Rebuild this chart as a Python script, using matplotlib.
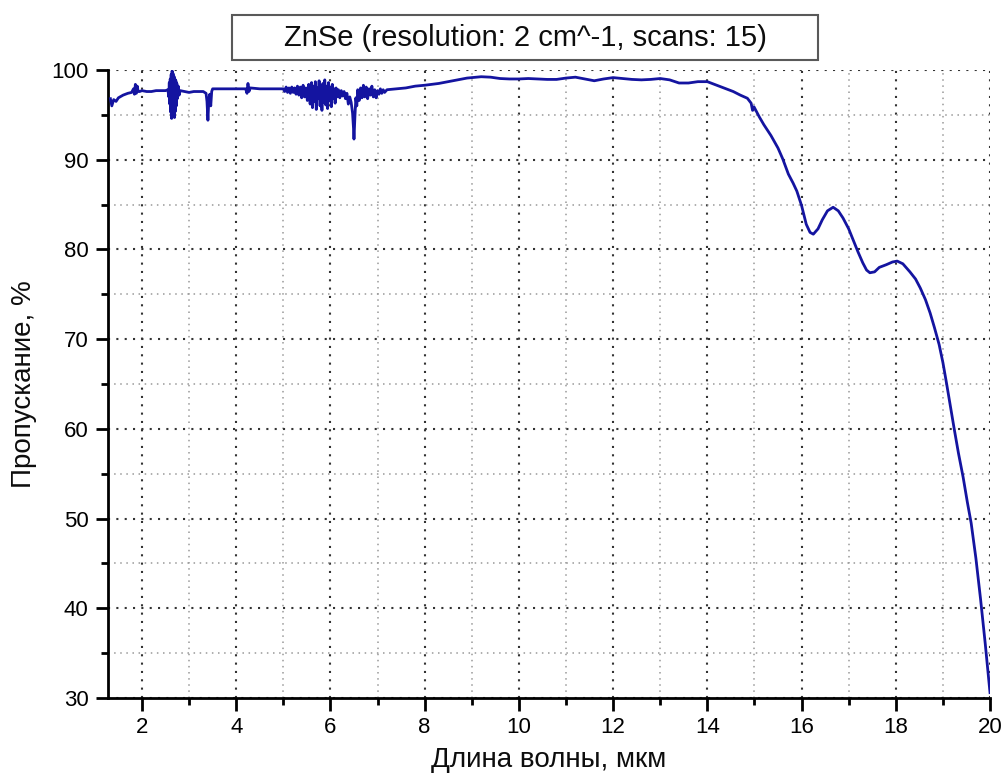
#!/usr/bin/env python3
"""ZnSe transmission spectrum (resolution 2 cm^-1, 15 scans)."""
import matplotlib

matplotlib.use("Agg")
import matplotlib.pyplot as plt
from matplotlib.patches import Rectangle
from matplotlib.ticker import MultipleLocator

plt.rcParams["font.family"] = ["Liberation Sans", "DejaVu Sans"]

TITLE = "ZnSe (resolution: 2 cm^-1, scans: 15)"
XLABEL = "Длина волны, мкм"
YLABEL = "Пропускание, %"

# values: wavelength (um) -> transmission (%)
wl_start = [1.33, 1.36, 1.40, 1.45, 1.50, 1.60, 1.70, 1.78, 1.82, 1.84, 1.86,
            1.88, 1.90, 1.92, 1.95, 2.00, 2.10, 2.20, 2.30, 2.40, 2.50]
t_start = [96.8, 96.0, 96.7, 96.5, 96.9, 97.2, 97.4, 97.5, 97.9, 97.3, 98.4,
           97.4, 98.2, 97.6, 97.6, 97.7, 97.6, 97.6, 97.7, 97.7, 97.7]

wl_burst = [2.55, 2.57, 2.58, 2.59, 2.60, 2.61, 2.62, 2.63, 2.64, 2.65, 2.66,
            2.67, 2.68, 2.69, 2.70, 2.71, 2.72, 2.73, 2.74, 2.75, 2.77, 2.79,
            2.81]
t_burst = [97.8, 97.0, 98.6, 96.2, 99.0, 95.3, 99.5, 94.6, 99.9, 94.8, 99.6,
           95.0, 99.3, 94.7, 99.0, 95.4, 98.8, 96.0, 98.5, 96.8, 98.2, 97.2,
           97.7]

wl_mid = [2.90, 3.00, 3.10, 3.20, 3.30, 3.36, 3.38, 3.40, 3.42, 3.44, 3.46,
          3.48, 3.50, 3.60, 3.80, 4.00, 4.20, 4.23, 4.25, 4.27, 4.30, 4.50,
          4.70, 4.90]
t_mid = [97.6, 97.5, 97.6, 97.6, 97.6, 97.4, 96.5, 94.4, 96.8, 97.3, 96.0,
         97.6, 97.9, 97.9, 97.9, 97.9, 97.9, 97.4, 98.5, 97.6, 98.0, 97.9,
         97.9, 97.9]

wl_noise = [5.00, 5.03, 5.06, 5.09, 5.12, 5.15, 5.18, 5.21, 5.24, 5.27, 5.30,
            5.33, 5.36, 5.39, 5.42, 5.45, 5.48, 5.51, 5.54, 5.57, 5.60, 5.62,
            5.64, 5.66, 5.68, 5.70, 5.72, 5.74, 5.76, 5.78, 5.80, 5.82, 5.84,
            5.86, 5.88, 5.90, 5.92, 5.94, 5.96, 5.98, 6.00, 6.02, 6.04, 6.06,
            6.08, 6.10, 6.12, 6.14, 6.17, 6.20, 6.23, 6.26, 6.29, 6.32, 6.35,
            6.38, 6.41, 6.44, 6.47, 6.49, 6.50, 6.52, 6.54, 6.56, 6.58, 6.61,
            6.64, 6.67, 6.70, 6.73, 6.76, 6.79, 6.82, 6.85, 6.88, 6.91, 6.94,
            6.97, 7.00, 7.03, 7.06, 7.09, 7.12, 7.15]
t_noise = [97.9, 97.6, 98.1, 97.5, 98.0, 97.4, 98.1, 97.5, 98.0, 97.3, 98.2,
           97.2, 98.1, 96.9, 98.3, 97.0, 98.0, 96.6, 98.4, 96.2, 98.6, 95.8,
           98.2, 96.5, 98.7, 95.6, 98.0, 96.8, 98.8, 96.0, 98.3, 95.5, 98.5,
           96.4, 98.9, 96.1, 98.2, 95.7, 98.6, 96.6, 98.1, 95.9, 98.4, 96.8,
           97.9, 96.3, 98.0, 97.0, 97.8, 96.9, 97.7, 97.1, 97.6, 96.8, 97.4,
           96.2, 97.0, 96.4, 95.2, 93.5, 92.3, 94.8, 96.9, 96.0, 97.8, 96.6,
           98.0, 96.9, 98.3, 97.0, 98.1, 96.8, 97.9, 97.2, 98.2, 97.0, 97.8,
           96.9, 97.7, 97.3, 97.9, 97.4, 97.8, 97.5]

wl_end = [7.20, 7.40, 7.60, 7.80, 8.00, 8.30, 8.60, 8.90, 9.20, 9.40, 9.60,
          9.80, 10.0, 10.2, 10.4, 10.6, 10.8, 11.0, 11.2, 11.4, 11.6, 11.8,
          12.0, 12.2, 12.4, 12.6, 12.8, 13.0, 13.2, 13.4, 13.6, 13.8, 14.0,
          14.2, 14.4, 14.55, 14.7, 14.85, 14.93, 14.96, 14.99, 15.02, 15.1,
          15.2, 15.35, 15.5, 15.6, 15.72, 15.82, 15.9, 16.0, 16.1, 16.18,
          16.25, 16.35, 16.44, 16.55, 16.67, 16.78, 16.88, 17.0, 17.1, 17.2,
          17.3, 17.38, 17.45, 17.55, 17.65, 17.8, 17.93, 18.03, 18.15, 18.3,
          18.42, 18.52, 18.63, 18.73, 18.82, 18.92, 19.0, 19.08, 19.16, 19.24,
          19.33, 19.43, 19.52, 19.6, 19.7, 19.8, 19.9, 20.0]
t_end = [97.8, 97.9, 98.0, 98.2, 98.3, 98.5, 98.8, 99.1, 99.25, 99.2, 99.05,
         99.0, 99.0, 99.05, 99.0, 98.95, 98.95, 99.1, 99.2, 99.0, 98.8, 99.0,
         99.15, 99.05, 98.95, 98.9, 98.95, 99.05, 98.9, 98.55, 98.55, 98.7,
         98.7, 98.3, 97.9, 97.6, 97.2, 96.85, 96.3, 95.5, 95.9, 95.6, 94.8,
         93.9, 92.7, 91.3, 90.1, 88.4, 87.4, 86.5, 84.9, 82.8, 81.9,
         81.7, 82.3, 83.3, 84.3, 84.7, 84.3, 83.5, 82.3, 81.0, 79.7,
         78.5, 77.7, 77.4, 77.5, 78.0, 78.3, 78.6, 78.7, 78.4, 77.5,
         76.7, 75.7, 74.4, 72.9, 71.3, 69.4, 67.4, 65.0, 62.5, 60.0,
         57.3, 54.6, 51.8, 49.5, 45.6, 41.0, 36.0, 30.6]

wavelength = wl_start + wl_burst + wl_mid + wl_noise + wl_end
transmission = t_start + t_burst + t_mid + t_noise + t_end


def main():
    fig = plt.figure(figsize=(10.06, 7.76), dpi=100)
    ax = fig.add_axes([0.1074, 0.1005, 0.8767, 0.8093])

    ax.plot(wavelength, transmission, color="#1414a0", lw=2.0, zorder=3,
            solid_joinstyle="round")

    ax.set_xlim(1.28, 20)
    ax.set_ylim(30, 100)
    ax.xaxis.set_major_locator(MultipleLocator(2))
    ax.xaxis.set_minor_locator(MultipleLocator(1))
    ax.yaxis.set_major_locator(MultipleLocator(10))
    ax.yaxis.set_minor_locator(MultipleLocator(5))

    ax.grid(True, which="major", ls=(0, (1, 3)), color="0.2", lw=1.5)
    ax.grid(True, which="minor", ls=(0, (1, 3)), color="0.6", lw=1.1)
    ax.set_axisbelow(True)

    for side in ("top", "right"):
        ax.spines[side].set_visible(False)
    for side in ("left", "bottom"):
        ax.spines[side].set_linewidth(2.0)
    ax.tick_params(which="major", direction="out", length=9, width=2.0,
                   labelsize=16, colors="black", pad=5)
    ax.tick_params(which="minor", direction="out", length=5, width=2.0)

    ax.set_xlabel(XLABEL, fontsize=20, color="0.05", labelpad=6)
    ax.set_ylabel(YLABEL, fontsize=20, color="0.05", labelpad=10)

    # boxed title above the plot
    fig.patches.append(Rectangle((232 / 1006, 1 - 60 / 776), 586 / 1006,
                                 45 / 776, transform=fig.transFigure,
                                 fc="white", ec="0.35", lw=1.5))
    fig.text(525 / 1006, 1 - 38 / 776, TITLE, ha="center", va="center",
             fontsize=21, color="0.05")

    fig.savefig("out.png", dpi=100)


if __name__ == "__main__":
    main()
